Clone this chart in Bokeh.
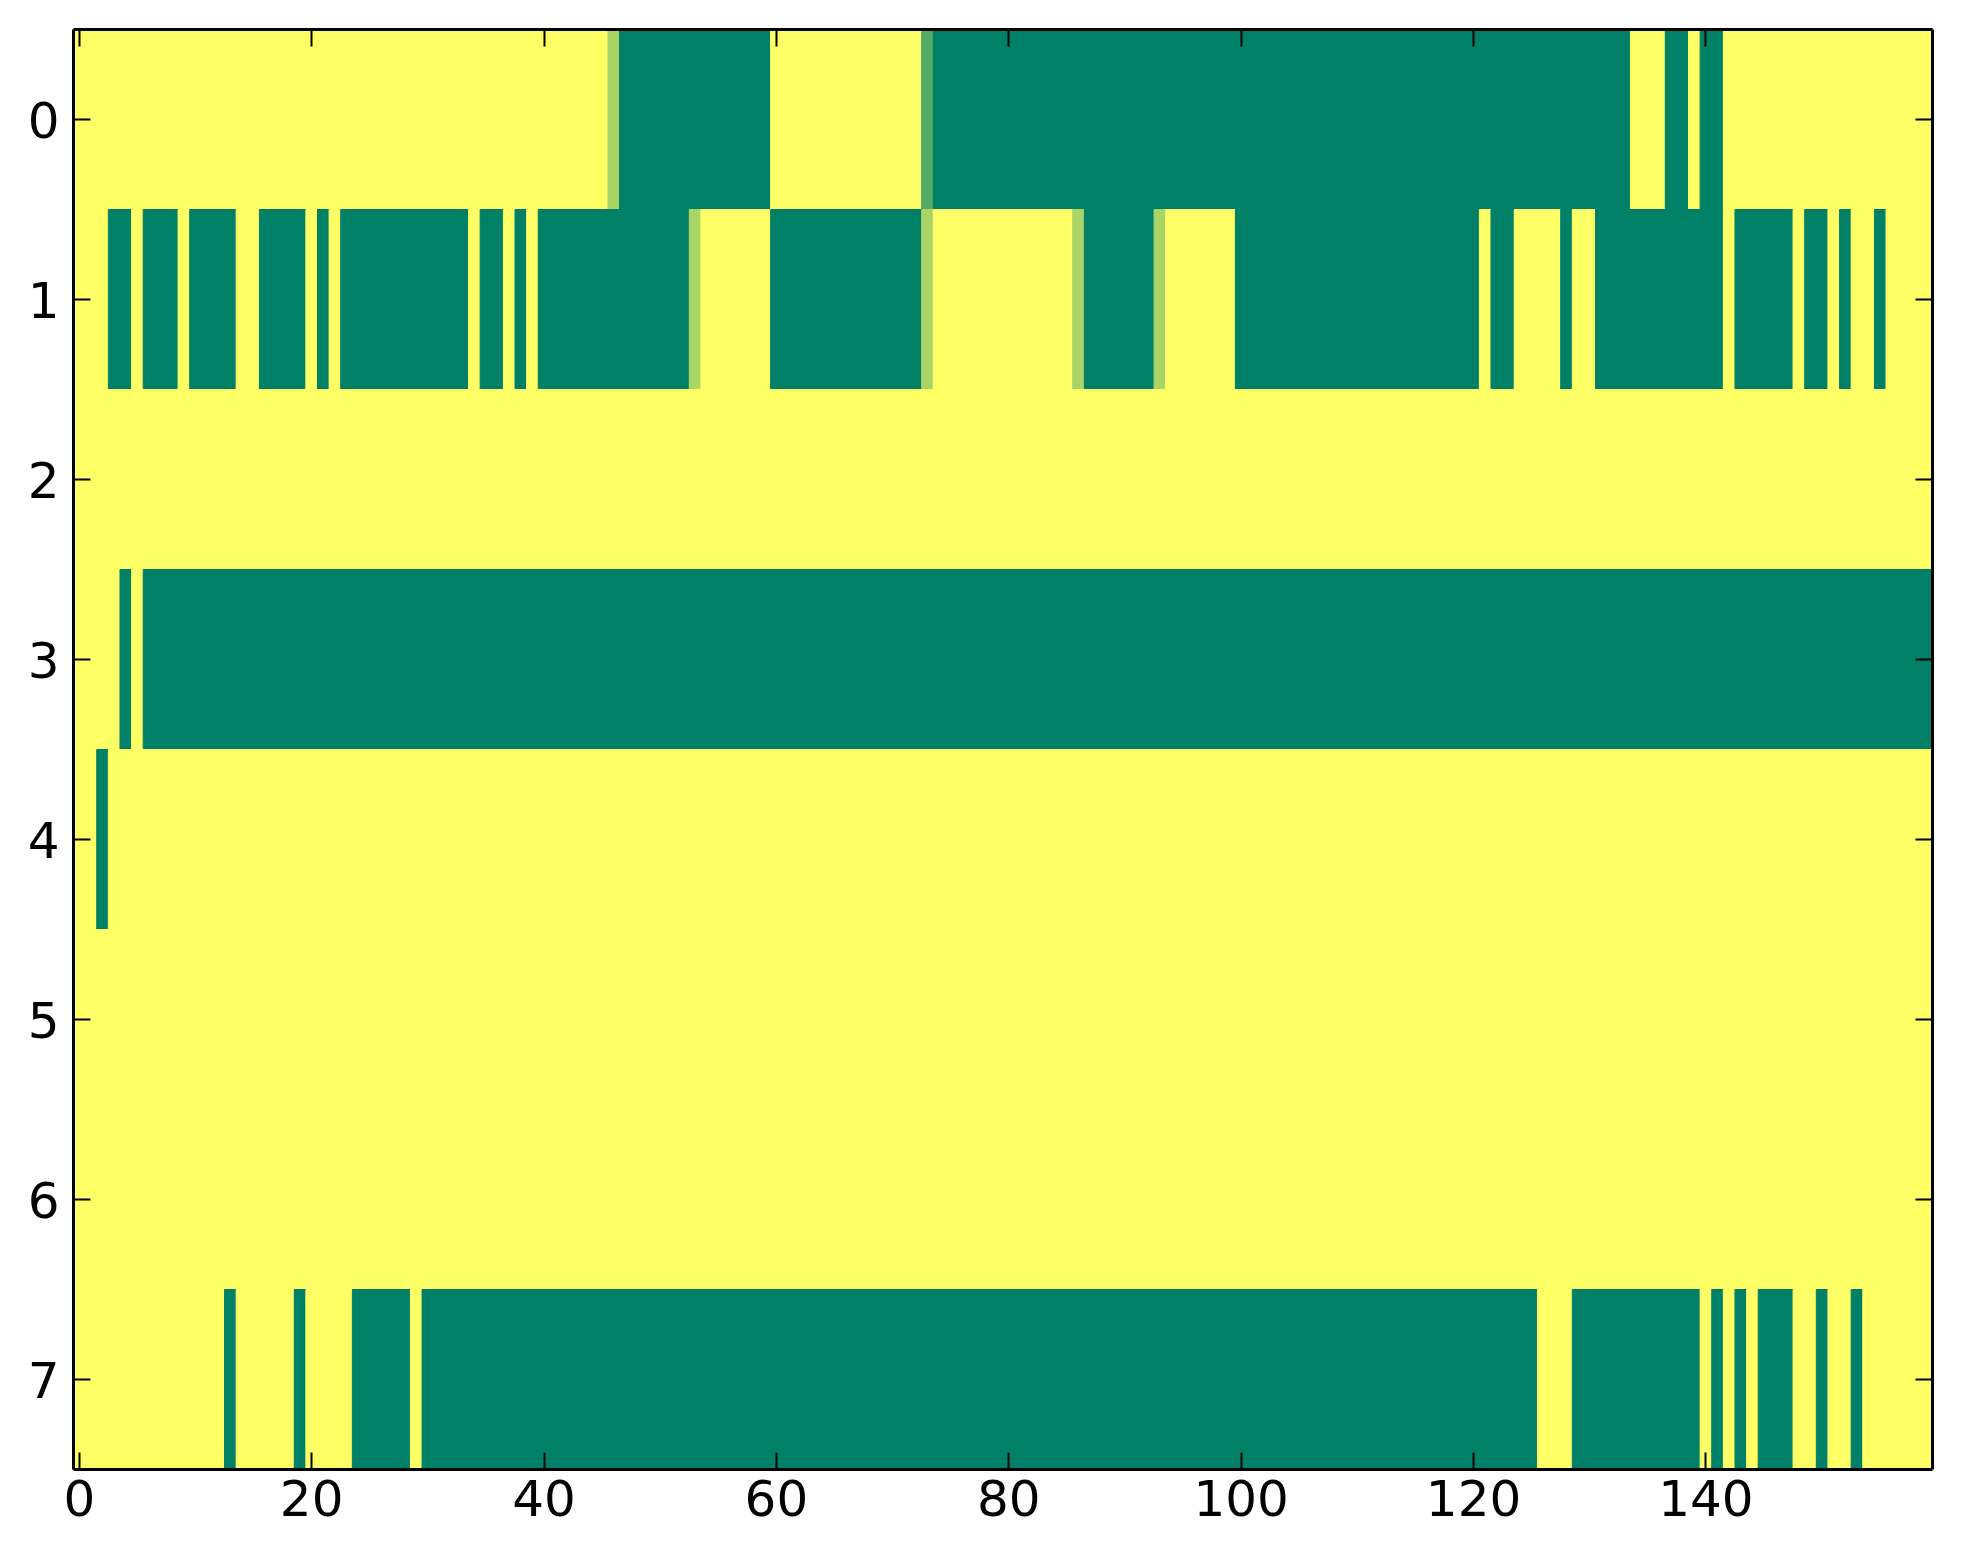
from bokeh.embed import file_html
from bokeh.models import (
    ColumnDataSource,
    CustomLabelingPolicy,
    FixedTicker,
    LinearAxis,
    Range1d,
)
from bokeh.plotting import figure
from bokeh.resources import INLINE

# ── Data: each row as runs of (value, number of cells), 160 columns ─────────
ROW_0 = [(1, 46), (0.667, 1), (0, 13), (1, 13), (0.333, 1), (0, 60),
         (1, 3), (0, 2), (1, 1), (0, 2), (1, 18)]
ROW_1 = [(1, 3), (0, 2), (1, 1), (0, 3), (1, 1), (0, 4), (1, 2), (0, 4),
         (1, 1), (0, 1), (1, 1), (0, 11), (1, 1), (0, 2), (1, 1), (0, 1),
         (1, 1), (0, 13), (0.667, 1), (1, 6), (0, 13), (0.667, 1), (1, 12),
         (0.667, 1), (0, 6), (0.667, 1), (1, 6), (0, 21), (1, 1), (0, 2),
         (1, 4), (0, 1), (1, 2), (0, 11), (1, 1), (0, 5), (1, 1), (0, 2),
         (1, 1), (0, 1), (1, 2), (0, 1), (1, 4)]
ROW_2 = [(1, 160)]
ROW_3 = [(1, 4), (0, 1), (1, 1), (0, 154)]
ROW_4 = [(1, 2), (0, 1), (1, 157)]
ROW_5 = [(1, 160)]
ROW_6 = [(1, 160)]
ROW_7 = [(1, 13), (0, 1), (1, 5), (0, 1), (1, 4), (0, 5), (1, 1), (0, 96),
         (1, 3), (0, 11), (1, 1), (0, 1), (1, 1), (0, 1), (1, 1), (0, 3),
         (1, 2), (0, 1), (1, 2), (0, 1), (1, 6)]
ROWS = [ROW_0, ROW_1, ROW_2, ROW_3, ROW_4, ROW_5, ROW_6, ROW_7]

X_TICKS = [0, 20, 40, 60, 80, 100, 120, 140]
Y_TICKS = [0, 1, 2, 3, 4, 5, 6, 7]
N_COLS = 160


def summer(v):
    # matplotlib "summer" colormap: (v, 0.5 + v/2, 0.4)
    r, g, b = v, 0.5 + 0.5 * v, 0.4
    return "#%02x%02x%02x" % (round(r * 255), round(g * 255), round(b * 255))


# ── Build quads from runs ────────────────────────────────────────────────────
left, right, top, bottom, color = [], [], [], [], []
for row, runs in enumerate(ROWS):
    start = 0
    for v, n in runs:
        left.append(start - 0.5)
        right.append(start + n - 0.5)
        top.append(row - 0.5)
        bottom.append(row + 0.5)
        color.append(summer(v))
        start += n

source = ColumnDataSource(dict(left=left, right=right, top=top,
                               bottom=bottom, color=color))

p = figure(
    frame_width=1859, frame_height=1440,
    x_range=Range1d(-0.5, N_COLS - 0.5),
    y_range=Range1d(len(ROWS) - 0.5, -0.5),
    x_axis_location=None, y_axis_location=None,
    toolbar_location=None, output_backend="svg",
    min_border_left=73, min_border_top=29,
    min_border_right=20, min_border_bottom=80,
)
p.grid.visible = False
p.outline_line_color = None
p.background_fill_color = "white"

p.quad(left="left", right="right", top="top", bottom="bottom", source=source,
       fill_color="color", line_color="color", line_width=1)

# ── Axes on all four sides, ticks pointing inward ───────────────────────────
hide_labels = CustomLabelingPolicy(code="""
    for (let i = 0; i < indices.size; i++)
        indices.unset(i)
    return indices
""")


def make_axis(ticks, show_labels):
    ax = LinearAxis(ticker=FixedTicker(ticks=ticks))
    ax.axis_line_color = "black"
    ax.axis_line_width = 3
    ax.major_tick_in = 17
    ax.major_tick_out = 0
    ax.major_tick_line_width = 2
    ax.minor_tick_line_color = None
    ax.major_label_text_font = "DejaVu Sans"
    ax.major_label_text_color = "black"
    if show_labels:
        ax.major_label_text_font_size = "50px"
    else:
        ax.major_label_text_font_size = "10px"
        ax.major_label_standoff = 0
        ax.major_label_policy = hide_labels
    return ax


bottom_ax = make_axis(X_TICKS, True)
bottom_ax.major_label_standoff = 10
p.add_layout(bottom_ax, "below")

left_ax = make_axis(Y_TICKS, True)
left_ax.major_label_standoff = 14
left_ax.major_label_orientation = "horizontal"
p.add_layout(left_ax, "left")

p.add_layout(make_axis(X_TICKS, False), "above")
p.add_layout(make_axis(Y_TICKS, False), "right")

open("out.html", "w").write(file_html(p, INLINE))
